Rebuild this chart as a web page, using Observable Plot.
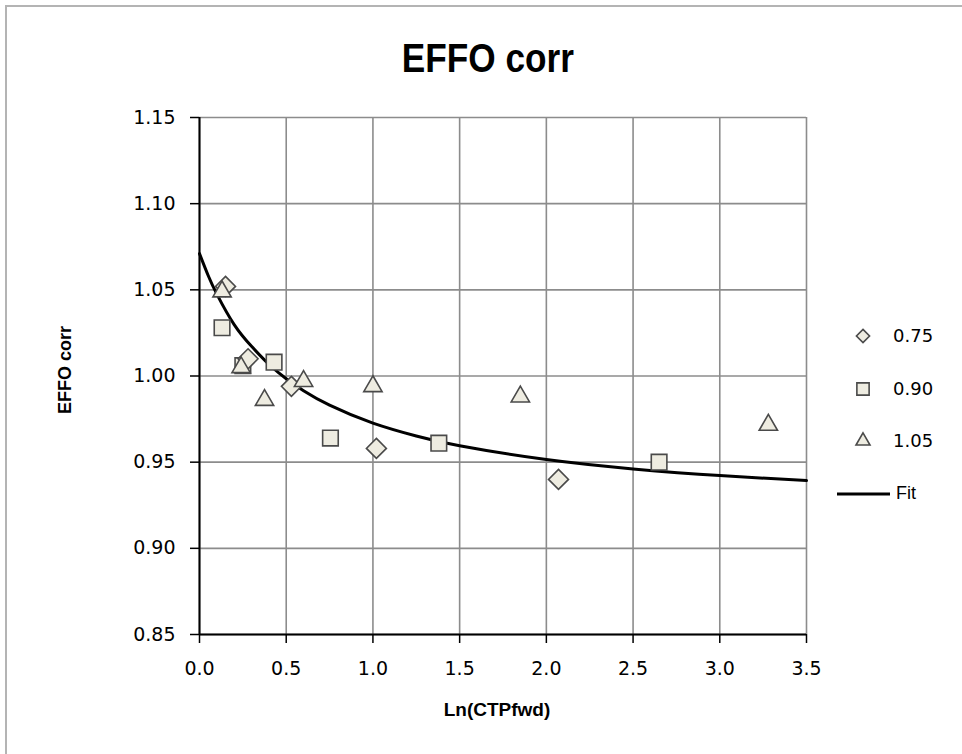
<!DOCTYPE html>
<html>
<head>
<meta charset="utf-8">
<script src="https://cdn.jsdelivr.net/npm/d3@7"></script>
<script src="https://cdn.jsdelivr.net/npm/@observablehq/plot@0.6"></script>
<style>
  html, body { margin: 0; padding: 0; background: #fff; }
  #wrap { position: relative; width: 962px; height: 754px; overflow: hidden; }
  #frame { position: absolute; left: 5px; top: 5px; width: 1100px; height: 900px; border: 2px solid #b4b4b4; }
  #chart { position: absolute; left: 0; top: 0; }
  .title { position: absolute; left: 0; width: 976px; top: 36px; text-align: center; }
  .title span { display: inline-block; transform: scaleX(0.88);
           font-family: "Liberation Sans Narrow", "Liberation Sans", sans-serif; font-weight: bold; font-size: 40px; color: #000; }
  .xlab { position: absolute; left: 397px; width: 200px; top: 699px; text-align: center;
          font-family: "Liberation Sans", sans-serif; font-weight: bold; font-size: 19px; }
  .ylab { position: absolute; left: 65px; top: 370px; transform: translate(-50%, -50%) rotate(-90deg); white-space: nowrap;
          font-family: "Liberation Sans", sans-serif; font-weight: bold; font-size: 18px; }
  .legend { position: absolute; left: 830px; top: 0; font-family: "DejaVu Sans", Verdana, sans-serif; font-size: 18px; }
  .legend .row { position: absolute; left: 0; width: 130px; height: 30px; }
  .legend svg { position: absolute; left: 0; top: 0; }
  .legend span { position: absolute; left: 63px; top: 4px; white-space: nowrap; }
</style>
</head>
<body>
<div id="wrap">
  <div id="frame"></div>
  <div id="chart"></div>
  <div class="title"><span>EFFO corr</span></div>
  <div class="xlab">Ln(CTPfwd)</div>
  <div class="ylab">EFFO corr</div>
  <div class="legend" id="legend"></div>
</div>
<script>
// ---- data ----
const xTicks = [0.0, 0.5, 1.0, 1.5, 2.0, 2.5, 3.0, 3.5];
const yTicks = [0.85, 0.90, 0.95, 1.00, 1.05, 1.10, 1.15];

const seriesNames = ["0.75", "0.90", "1.05", "Fit"];

const x075 = [0.15, 0.28, 0.53, 1.02, 2.07];
const y075 = [1.052, 1.010, 0.994, 0.958, 0.940];

const x090 = [0.13, 0.25, 0.43, 0.755, 1.38, 2.65];
const y090 = [1.028, 1.006, 1.008, 0.964, 0.961, 0.950];

const x105 = [0.13, 0.24, 0.375, 0.60, 1.00, 1.85, 3.28];
const y105 = [1.049, 1.005, 0.986, 0.997, 0.994, 0.988, 0.9716];

const fitX = [0.0, 0.05, 0.1, 0.2, 0.3, 0.4, 0.5, 0.6, 0.75, 1.0, 1.25, 1.5, 2.0, 2.5, 3.0, 3.5];
const fitY = [1.071, 1.0583, 1.0475, 1.0298, 1.0172, 1.0068, 0.9984, 0.9915, 0.9831, 0.9727, 0.9652, 0.9595, 0.9515, 0.9461, 0.9422, 0.9393];

// ---- build tables ----
const pts = (xs, ys) => xs.map((x, i) => ({x, y: ys[i]}));
const d075 = pts(x075, y075);
const d090 = pts(x090, y090);
const d105 = pts(x105, y105);
const dFit = pts(fitX, fitY);

const fillC = "#eeece1";
const strokeC = "#4a4a4a";
const gridC = "#8c8c8c";

const chart = Plot.plot({
  width: 962,
  height: 754,
  marginLeft: 199,
  marginRight: 156,
  marginTop: 117,
  marginBottom: 120,
  x: {domain: [0, 3.5]},
  y: {domain: [0.85, 1.15]},
  style: {fontFamily: "DejaVu Sans, Verdana, sans-serif", fontSize: "19px", background: "transparent", color: "#000"},
  marks: [
    Plot.gridX(xTicks, {stroke: gridC, strokeOpacity: 1, strokeWidth: 1.6}),
    Plot.gridY(yTicks, {stroke: gridC, strokeOpacity: 1, strokeWidth: 1.6}),
    Plot.axisX(xTicks, {tickSize: 9, tickPadding: 18, tickFormat: d3.format(".1f"), label: null, stroke: "#000", strokeWidth: 1.5}),
    Plot.axisY(yTicks, {tickSize: 9, tickPadding: 15, tickFormat: d3.format(".2f"), label: null, stroke: "#000", strokeWidth: 1.5}),
    Plot.ruleX([0], {stroke: "#000", strokeWidth: 2}),
    Plot.ruleY([0.85], {stroke: "#000", strokeWidth: 2}),
    Plot.line(dFit, {x: "x", y: "y", stroke: "#000", strokeWidth: 3, curve: "natural"}),
    Plot.dot(d090, {x: "x", y: "y", symbol: "square", r: 8.8, fill: fillC, stroke: strokeC, strokeWidth: 1.6}),
    Plot.dot(d075, {x: "x", y: "y", symbol: "diamond2", r: 9, fill: fillC, stroke: strokeC, strokeWidth: 1.6}),
    Plot.dot(d105, {x: "x", y: "y", symbol: "triangle", r: 6.8, fill: fillC, stroke: strokeC, strokeWidth: 1.6})
  ]
});
document.getElementById("chart").appendChild(chart);

// ---- legend ----
const legend = d3.select("#legend");
const legendRows = [
  {name: seriesNames[0], sym: d3.symbolDiamond2, size: 110, top: 321},
  {name: seriesNames[1], sym: d3.symbolSquare, size: 150, top: 374},
  {name: seriesNames[2], sym: d3.symbolTriangle, size: 85, top: 426},
  {name: seriesNames[3], sym: null, top: 479}
];
legendRows.forEach(r => {
  const row = legend.append("div").attr("class", "row").style("top", r.top + "px");
  const svg = row.append("svg").attr("width", 62).attr("height", 30);
  if (r.sym) {
    svg.append("path")
      .attr("d", d3.symbol(r.sym, r.size)())
      .attr("transform", "translate(33,15)")
      .attr("fill", fillC).attr("stroke", strokeC).attr("stroke-width", 1.6);
  } else {
    svg.append("line").attr("x1", 7).attr("x2", 60).attr("y1", 15).attr("y2", 15)
      .attr("stroke", "#000").attr("stroke-width", 3);
  }
  row.append("span").text(r.name)
    .style("left", r.sym ? "63px" : "66px")
    .style("font-family", r.sym ? null : "'Liberation Sans', sans-serif");
});
</script>
</body>
</html>
